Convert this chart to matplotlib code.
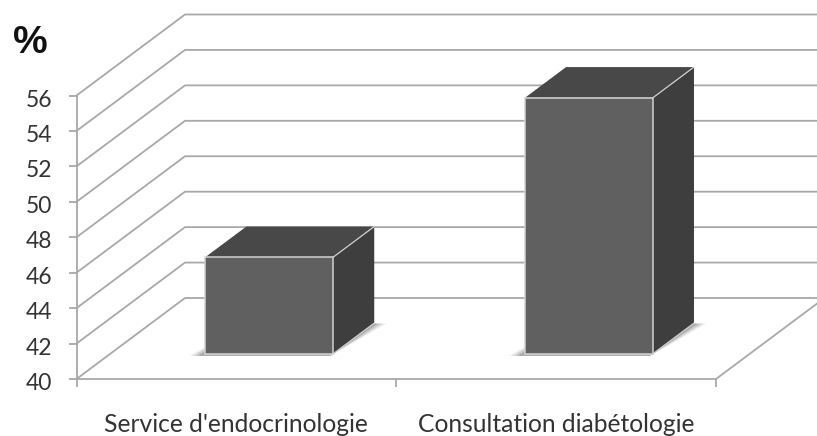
import numpy as np
import matplotlib
matplotlib.use('Agg')
import matplotlib.pyplot as plt
from matplotlib.transforms import ScaledTranslation

categories = ["Service d'endocrinologie", "Consultation diabétologie"]
values = [45.45, 54.45]
y_ticks = [40, 42, 44, 46, 48, 50, 52, 54, 56]

W, H = 817, 436
px = 0.72  # one pixel in points at dpi 100

# front plane of the box, in pixels
left, right, top, bottom = 76.5, 716, 95.5, 379
x_per_cat = (right - left) / 2
y_per_unit = (bottom - top) / 16
# depth of the box, in data units
dx = 108.5 / x_per_cat
dy = 81 / y_per_unit
bar_w = 0.4
d0, d1 = 0.31, 0.69


def proj(x, v, d):
  return x + d * dx, v + d * dy


fig = plt.figure(figsize=(W / 100, H / 100), dpi=100)
ax = fig.add_axes([left / W, 1 - bottom / H, (right - left) / W, (bottom - top) / H])
ax.set_xlim(0, 2)
ax.set_ylim(40, 56)
ax.patch.set_visible(False)

grid_c = '#a8a8a8'
lw = 1.8 * px

for s in ['top', 'right']:
  ax.spines[s].set_visible(False)
for s in ['left', 'bottom']:
  ax.spines[s].set_color(grid_c)
  ax.spines[s].set_linewidth(lw)

# walls
for v in y_ticks:
  pts = [proj(0, v, 0), proj(0, v, 1), proj(2, v, 1)]
  ax.plot(*zip(*pts), color=grid_c, lw=lw, clip_on=False, zorder=1, solid_joinstyle='miter')
ax.plot(*zip(proj(2, 40, 0), proj(2, 40, 1)), color=grid_c, lw=lw, clip_on=False, zorder=1)

# bars
for i, v in enumerate(values):
  x0 = i + 0.497 - bar_w / 2
  x1 = i + 0.497 + bar_w / 2

  # soft shadow on the floor
  for grow, a in zip([0.04, 0.028, 0.014], [0.12, 0.2, 0.3]):
    shadow = [proj(x0 - grow, 40, d0 - 0.025), proj(x1, 40, d0 - 0.025),
              proj(x1 + grow, 40, d1 - 0.005), proj(x0, 40, d1 - 0.005)]
    ax.fill(*zip(*shadow), color='#555555', alpha=a, lw=0, clip_on=False, zorder=2)

  front = [proj(x0, 40, d0), proj(x1, 40, d0), proj(x1, v, d0), proj(x0, v, d0)]
  side = [proj(x1, 40, d0), proj(x1, 40, d1), proj(x1, v, d1), proj(x1, v, d0)]
  lid = [proj(x0, v, d0), proj(x1, v, d0), proj(x1, v, d1), proj(x0, v, d1)]
  ax.fill(*zip(*lid), fc='#484848', ec='none', clip_on=False, zorder=3)
  ax.fill(*zip(*side), fc='#3e3e3e', ec='none', clip_on=False, zorder=3)
  ax.fill(*zip(*front), fc='#606060', ec='#d4d4d4', lw=1.5 * px, clip_on=False, zorder=4)
  ax.plot(*zip(proj(x1, v, d0), proj(x1, v, d1)), color='#d4d4d4', lw=1.2 * px, clip_on=False, zorder=4)
  ax.plot(*zip(proj(x1, 40, d0), proj(x1, 40, d1)), color='#d4d4d4', lw=1.2 * px, clip_on=False, zorder=3)

# ticks
ax.set_yticks(y_ticks)
ax.set_yticklabels([str(t) for t in y_ticks], family='Lato', fontsize=16.5, color='#333333')
ax.set_xticks([0, 1, 2])
ax.set_xticklabels([])
ax.set_xticks([0.5, 1.5], minor=True)
ax.set_xticklabels(categories, minor=True, family='Lato', fontsize=17.7, color='#333333')
ax.tick_params(axis='y', length=8 * px, width=lw, color=grid_c, pad=11.5)
ax.tick_params(axis='x', which='major', length=8 * px, width=lw, color=grid_c)
ax.tick_params(axis='x', which='minor', length=0, pad=24.5)

# the value labels sit a little under their ticks
shift = ScaledTranslation(0, -2.5 / 100, fig.dpi_scale_trans)
for label in ax.get_yticklabels():
  label.set_transform(label.get_transform() + shift)

fig.text(30 / W, 1 - 43 / H, '%', family='Liberation Sans', fontweight='bold',
         fontsize=28, color='#111111', ha='center', va='center')

fig.savefig('out.png', dpi=100)
